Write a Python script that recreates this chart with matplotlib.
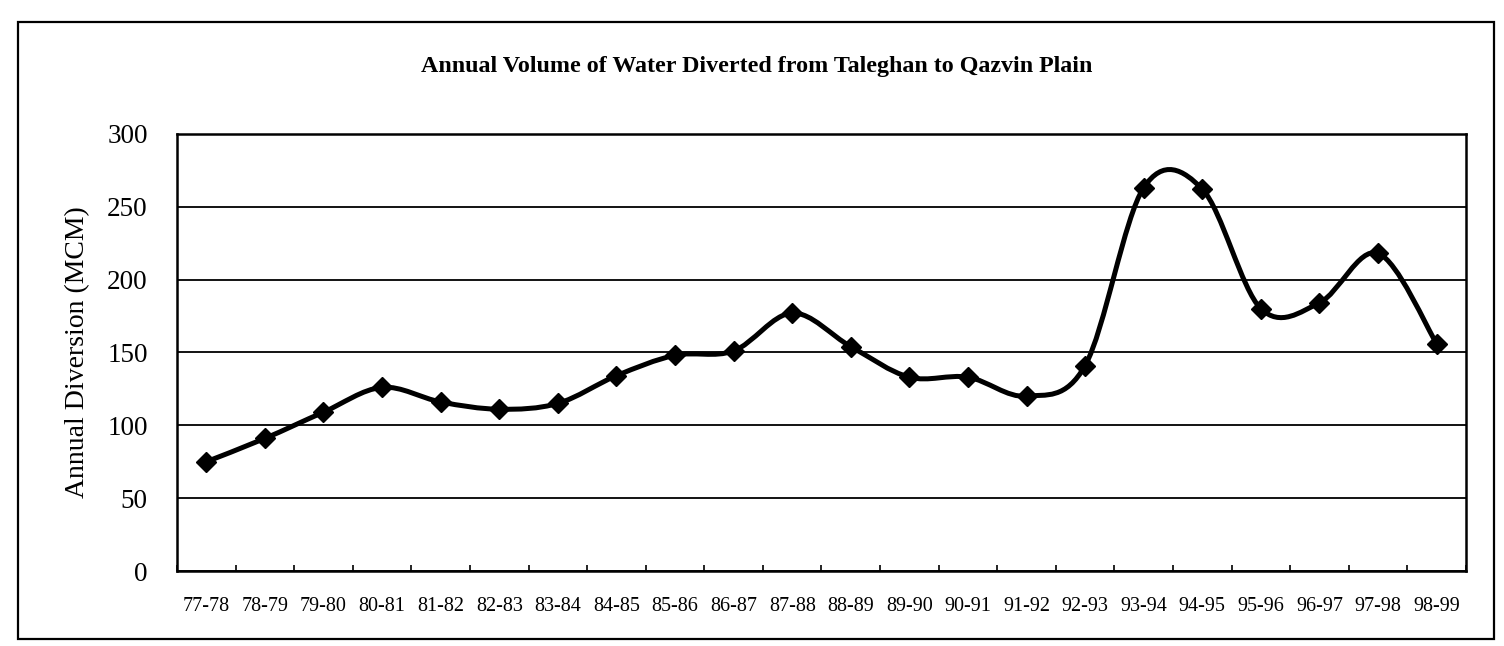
import numpy as np
import matplotlib
matplotlib.use('agg')
import matplotlib.pyplot as plt
from matplotlib.path import Path
from matplotlib.patches import PathPatch, Rectangle

# years of record and the annual diversion (MCM)
years = ['77-78', '78-79', '79-80', '80-81', '81-82', '82-83', '83-84',
         '84-85', '85-86', '86-87', '87-88', '88-89', '89-90', '90-91',
         '91-92', '92-93', '93-94', '94-95', '95-96', '96-97', '97-98',
         '98-99']
diversion = [75, 91, 109, 126, 116, 111, 115, 134, 148, 151, 177, 154,
             133, 133, 120, 141, 263, 262, 180, 184, 218, 156]
y_ticks = [0, 50, 100, 150, 200, 250, 300]

title = 'Annual Volume of Water Diverted from Taleghan to Qazvin Plain'
y_label = 'Annual Diversion (MCM)'


def smooth_path(x, y):
    '''Excel風のスムージング (Catmull-Rom を Bezier に変換)'''
    pts = np.column_stack([x, y]).astype(float)
    n = len(pts)
    verts = [pts[0]]
    codes = [Path.MOVETO]
    for i in range(n - 1):
        p0 = pts[i - 1] if i > 0 else pts[i]
        p1 = pts[i]
        p2 = pts[i + 1]
        p3 = pts[i + 2] if i + 2 < n else pts[i + 1]
        c1 = p1 + (p2 - p0) / 6
        c2 = p2 - (p3 - p1) / 6
        verts += [c1, c2, p2]
        codes += [Path.CURVE4] * 3
    return Path(verts, codes)


plt.rcParams['font.family'] = ['Liberation Serif', 'DejaVu Serif']

fig = plt.figure(figsize=(15.04, 6.46), dpi=100)
ax = fig.add_axes([0.1177, 0.116, 0.857, 0.677])

x = np.arange(len(years))
patch = PathPatch(smooth_path(x, diversion), facecolor='none',
                  edgecolor='black', linewidth=3.6, zorder=3,
                  capstyle='round', joinstyle='round')
ax.add_patch(patch)
ax.plot(x, diversion, linestyle='none', marker='D', markersize=10,
        color='black', zorder=4)

ax.set_xlim(-0.5, len(years) - 0.5)
ax.set_ylim(0, 300)
ax.set_yticks(y_ticks)
ax.set_xticks(x)
ax.set_xticklabels(years)
ax.set_xticks(np.arange(len(years) + 1) - 0.5, minor=True)
ax.tick_params(axis='x', which='major', length=0, labelsize=14.5, pad=19)
ax.tick_params(axis='x', which='minor', direction='in', length=4,
               width=1.2)
ax.tick_params(axis='y', length=0, labelsize=19.5, pad=21)

ax.grid(axis='y', color='black', linewidth=1.3)
ax.set_axisbelow(True)
for s in ax.spines.values():
    s.set_linewidth(1.8)
    s.set_color('black')

ax.set_ylabel(y_label, fontsize=20, labelpad=12)

fig.text(0.503, 1 - 72 / 646, title, ha='center', va='baseline',
         fontsize=17.3, fontweight='bold')

# 外枠
fig.add_artist(Rectangle((18 / 1504, 1 - 639 / 646), 1476 / 1504,
                         617 / 646, transform=fig.transFigure,
                         fill=False, edgecolor='black', linewidth=1.6))

fig.savefig('out.png', dpi=100)
